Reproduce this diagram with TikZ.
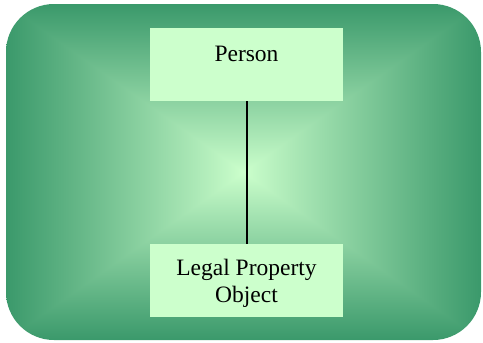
\documentclass[tikz,border=0pt]{standalone}
\usepackage{fontspec}
\setmainfont{Liberation Serif}
\pgfdeclarefunctionalshading{rectgrad}{\pgfpoint{-50bp}{-50bp}}{\pgfpoint{50bp}{50bp}}{}{
abs exch abs 2 copy lt {exch} if pop 25 div
dup 1 gt {pop 1} if
0.95 exp
dup -0.57 mul 0.8 add exch
dup -0.4 mul 1 add exch
-0.38 mul 0.8 add
}
\definecolor{boxfill}{HTML}{CCFFCC}
\tikzset{
  classbox/.style={rectangle, fill=boxfill, draw=none, minimum width=193bp, minimum height=73bp, inner sep=0pt},
  lbl/.style={font=\fontsize{23.5bp}{27bp}\selectfont, align=center, inner sep=0pt, anchor=base},
  link/.style={line width=2bp, black}
}
\begin{document}
\begin{tikzpicture}[x=1bp,y=-1bp]
\useasboundingbox (0,0) rectangle (483,342);
\shade[shading=rectgrad, rounded corners=48bp] (6,4) rectangle (481,340);
\node[classbox] (person) at (246.5,64.5) {};
\node[classbox] (legal) at (246.5,280.5) {};
\node[lbl] (personlbl) at (246.5,61) {Person};
\node[lbl] (legallbl) at (246.5,302) {Legal Property\\Object};
\draw[link] (person.south) -- (legal.north);
\end{tikzpicture}
\end{document}
